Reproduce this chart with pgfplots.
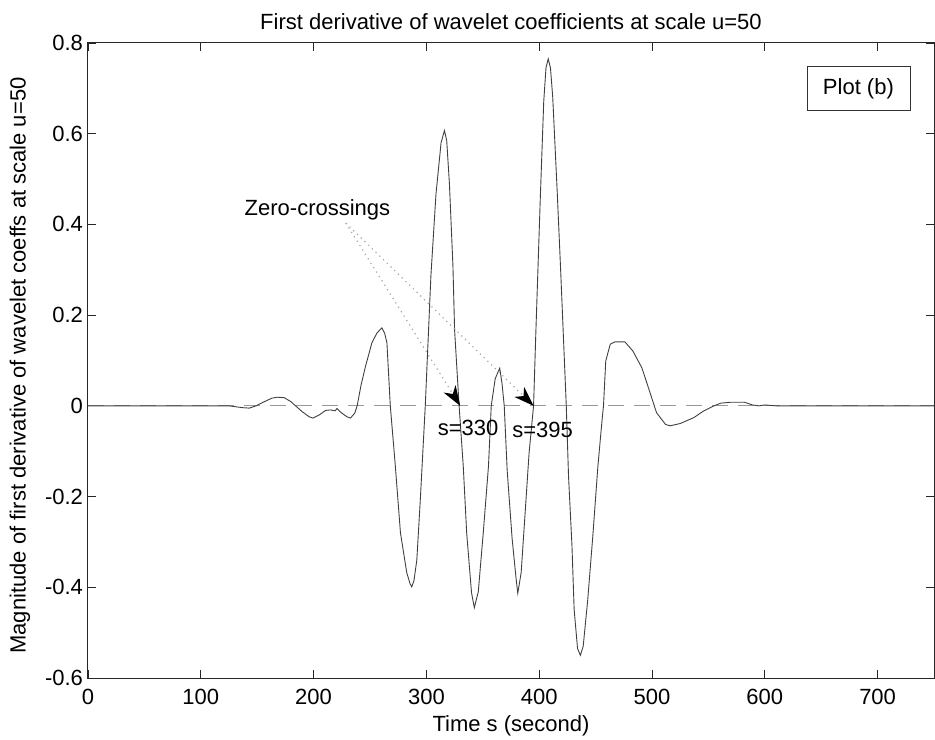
\documentclass[border=0pt]{standalone}
\usepackage{pgfplots}
\pgfplotsset{compat=1.18}
\usepackage{fontspec}
\setmainfont{Liberation Sans}
\usetikzlibrary{arrows.meta}
\begin{document}
\begin{tikzpicture}
\path[use as bounding box] (-44pt,-30.5pt) rectangle (423.5pt,339pt);
\begin{axis}[
  at={(0,0)}, anchor=south west,
  scale only axis, width=423pt, height=317.5pt,
  xmin=0, xmax=750, ymin=-0.6, ymax=0.8,
  xtick={0,100,...,700}, ytick={-0.6,-0.4,...,0.8},
  tick align=inside, major tick length=4pt,
  xtick pos=both, ytick pos=both,
  axis line style={line width=0.5pt, black!85},
  every tick/.style={black!85, line width=0.4pt},
  font=\fontsize{11}{13}\selectfont,
  /pgf/number format/assume math mode=true,
  /pgf/number format/fixed, /pgf/number format/precision=1,
  yticklabel style={/pgf/number format/fixed zerofill=false, xshift=1pt},
  xticklabel style={yshift=-2pt},
  title={First derivative of wavelet coefficients at scale u=50},
  title style={at={(axis description cs:0.5,1)}, anchor=center, yshift=4.5pt},
  xlabel={Time s (second)},
  xlabel style={at={(axis description cs:0.5,0)}, anchor=center, yshift=-24pt},
  ylabel={Magnitude of first derivative of wavelet coeffs at scale u=50},
  ylabel style={at={(axis description cs:0,0.5)}, anchor=center, yshift=34pt, xshift=-2.5pt},
  clip=false,
]
\addplot[gray!80, dash pattern=on 8pt off 5pt, line width=0.5pt] coordinates {(0,0) (750,0)};
\addplot[black!75, line width=0.45pt] coordinates {
(0,0) (125,0) (137,-0.004) (143,-0.005) (149,0) (154.5,0.007) (163,0.017) (168,0.019) (174,0.018)
(180,0.009) (184,0) (190,-0.013) (196,-0.024) (199.5,-0.027) (205,-0.02) (210.7,-0.01) (215,-0.009)
(219,-0.011) (220.7,-0.006) (225,-0.016) (229.5,-0.024) (232.7,-0.027) (236.5,-0.016) (238.6,0)
(242,0.045) (246,0.087) (251.7,0.139) (256,0.16) (260.5,0.172) (263,0.16) (265,0.139) (268,0)
(272.5,-0.134) (277,-0.28) (282.6,-0.368) (285.5,-0.392) (287,-0.399) (289,-0.385) (291.5,-0.34)
(294.6,-0.207) (299,0) (304,0.287) (308.5,0.467) (313,0.58) (316,0.607) (318,0.585) (320.4,0.49)
(323.5,0.31) (325,0.167) (329,0) (332.7,-0.134) (335.7,-0.28) (340,-0.412) (342.5,-0.445) (346,-0.41)
(350.4,-0.28) (355,-0.134) (357.5,0) (361,0.06) (365,0.083) (367,0.05) (369,0) (371.6,-0.142)
(376,-0.293) (379.6,-0.383) (381,-0.413) (384,-0.368) (388,-0.218) (391,-0.105) (395,0) (397,0.16)
(401,0.46) (404,0.67) (406,0.745) (408,0.765) (410,0.745) (412,0.68) (416,0.47) (419,0.3) (421.5,0.15)
(424,0) (426,-0.155) (429,-0.306) (431,-0.45) (434,-0.535) (436.5,-0.55) (439,-0.53) (443,-0.428)
(447.5,-0.288) (452,-0.134) (456,-0.024) (457,0) (459,0.099) (463,0.136) (467,0.141) (476,0.141)
(483,0.121) (491,0.084) (498,0.031) (504,-0.015) (512,-0.041) (516,-0.044) (525,-0.039) (537,-0.026)
(546,-0.011) (555,0) (561,0.006) (570,0.008) (582,0.008) (589,0.002) (595,0) (600,0.002) (610,0) (750,0)
};
\draw[gray!70, dotted, line width=0.6pt, -{Stealth[length=10pt, width=7pt, inset=3pt, black, sep=0pt]}]
  (axis cs:228.6,0.403) -- (axis cs:330,0);
\draw[gray!70, dotted, line width=0.6pt, -{Stealth[length=10pt, width=7pt, inset=3pt, black, sep=0pt]}]
  (axis cs:228.6,0.403) -- (axis cs:395,0);
\node[anchor=west, inner sep=0pt] at (axis cs:138.6,0.432) {Zero-crossings};
\node[inner sep=0pt] at (axis cs:337,-0.048) {s=330};
\node[inner sep=0pt] at (axis cs:403,-0.053) {s=395};
\node[draw=black!80, line width=0.4pt, minimum width=51.5pt, minimum height=22pt, inner sep=0pt] at (axis cs:683,0.699) {Plot (b)};
\end{axis}
\end{tikzpicture}
\end{document}
